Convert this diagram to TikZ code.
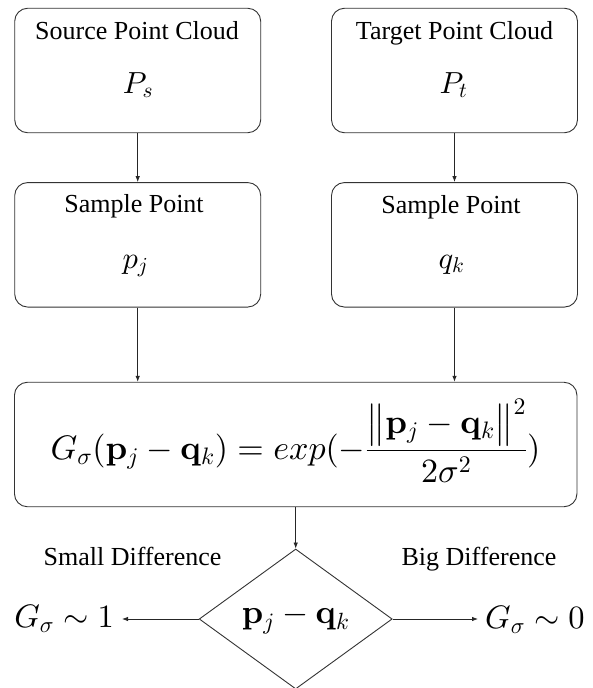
\documentclass[tikz,border=0pt]{standalone}
\usepackage{amsmath}
\usepackage[no-math]{fontspec}
\newfontfamily\txtfont{Liberation Serif}
\DeclareFontShape{OML}{cmm}{m}{it}{<->cmmi10}{}
\DeclareFontShape{OML}{cmm}{b}{it}{<->cmmib10}{}
\DeclareFontShape{OMS}{cmsy}{m}{n}{<->cmsy10}{}
\DeclareFontShape{OT1}{cmr}{m}{n}{<->cmr10}{}
\DeclareFontShape{OT1}{cmr}{bx}{n}{<->cmbx10}{}
\DeclareFontShape{OMX}{cmex}{m}{n}{<->cmex10}{}
\usetikzlibrary{shapes.geometric,arrows.meta}
\begin{document}
\begin{tikzpicture}[x=1pt,y=-1pt,
  box/.style={draw=black!80, line width=0.9pt, rounded corners=13pt, minimum width=246pt, minimum height=124.5pt, inner sep=0pt},
  lbl/.style={font=\txtfont\fontsize{26}{31}\selectfont, anchor=base, inner sep=0pt},
  mth/.style={font=\fontsize{30.5}{36}\selectfont, anchor=base, inner sep=0pt},
  res/.style={font=\fontsize{32.5}{38}\selectfont, anchor=base, inner sep=0pt},
  arr/.style={draw=black!85, line width=0.8pt, -{Latex[length=6pt,width=4.5pt]}}]
\useasboundingbox (0,0) rectangle (592,688);
% boxes
\node[box] (src) at (137.7,70.5) {};
\node[box] (tgt) at (454.5,70.5) {};
\node[box] (sl) at (137.7,244.8) {};
\node[box] (sr) at (454.5,244.8) {};
\node[box, minimum width=562.5pt] (big) at (295.7,444.5) {};
\node[draw=black!80, line width=0.9pt, diamond, minimum width=193pt, minimum height=140pt, inner sep=0pt, font=\fontsize{33.5}{40}\selectfont] (dec) at (295.7,619) {$\mathbf{p}_j-\mathbf{q}_k$};
% texts
\node[lbl] (srcT) at (137,39.3) {Source Point Cloud};
\node[mth] (srcM) at (138,93.3) {$P_s$};
\node[lbl] (tgtT) at (454.5,39.3) {Target Point Cloud};
\node[mth] (tgtM) at (453.5,93.3) {$P_t$};
\node[lbl] (slT) at (134,212.3) {Sample Point};
\node[mth] (slM) at (135.5,268) {$p_j$};
\node[lbl] (srT) at (451,213.5) {Sample Point};
\node[mth] (srM) at (451.5,268.3) {$q_k$};
\node[anchor=base, inner sep=0pt, font=\fontsize{34}{40}\selectfont] (form) at (295.5,459)
  {$\displaystyle G_\sigma(\mathbf{p}_j-\mathbf{q}_k)=exp(-\frac{\big\|\mathbf{p}_j-\mathbf{q}_k\big\|^2}{2\sigma^2})$};
\node[lbl] (small) at (132.5,565) {Small Difference};
\node[lbl] (bigd) at (479,565) {Big Difference};
\node[res, anchor=base east, inner xsep=8pt] (g1) at (122,627.5) {$G_\sigma\sim 1$};
\node[res, anchor=base west, inner xsep=7pt] (g0) at (478,628.5) {$G_\sigma\sim 0$};
% connectors
\draw[arr] (src.south) -- (sl.north);
\draw[arr] (tgt.south) -- (sr.north);
\draw[arr] (sl.south) -- (sl.south |- big.north);
\draw[arr] (sr.south) -- (sr.south |- big.north);
\draw[arr] (big.south) -- (dec.north);
\draw[arr] (dec.west) -- (dec.west -| g1.east);
\draw[arr] (dec.east) -- (dec.east -| g0.west);
\end{tikzpicture}
\end{document}
